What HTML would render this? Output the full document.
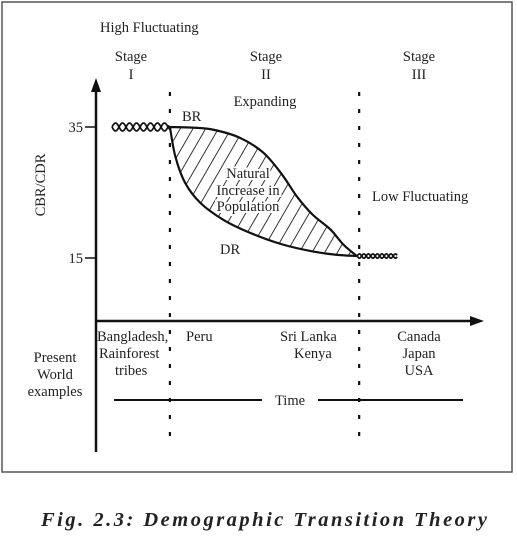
<!DOCTYPE html>
<html><head><meta charset="utf-8"><style>
body{margin:0;background:#fff}
svg text{font-family:"Liberation Serif",serif;font-size:14.5px;fill:#222}
</style></head><body>
<svg width="517" height="545" viewBox="0 0 517 545">
<defs>
<pattern id="hatch" patternUnits="userSpaceOnUse" width="11" height="11" patternTransform="rotate(30)">
<line x1="0" y1="0" x2="0" y2="11" stroke="#111" stroke-width="1.7"/>
</pattern>
<clipPath id="nic"><path id="clipPath"/></clipPath>
</defs>
<rect x="2" y="2" width="510" height="470" fill="none" stroke="#555" stroke-width="1.5"/>
<text x="100" y="32">High Fluctuating</text>
<g text-anchor="middle">
<text x="131" y="61">Stage</text><text x="131" y="79">I</text>
<text x="266" y="61">Stage</text><text x="266" y="79">II</text>
<text x="419" y="61">Stage</text><text x="419" y="79">III</text>
</g>
<text x="265" y="106" text-anchor="middle">Expanding</text>
<text x="182" y="121">BR</text>
<text x="220" y="254">DR</text>
<text x="372" y="201">Low Fluctuating</text>
<g id="plot"></g>
<g text-anchor="middle" style="paint-order:stroke" stroke="#fff" stroke-width="4">
<text x="248" y="178">Natural</text><text x="248" y="195">Increase in</text><text x="248" y="211">Population</text>
</g>
<text transform="translate(45,185) rotate(-90)" text-anchor="middle">CBR/CDR</text>
<g id="axes"></g>
<g>
<text x="97" y="341">Bangladesh,</text>
<text x="99" y="358">Rainforest</text>
<text x="115" y="375">tribes</text>
<text x="186" y="341">Peru</text>
<text x="280" y="341">Sri Lanka</text>
<text x="294" y="358">Kenya</text>
<g text-anchor="middle"><text x="419" y="341">Canada</text><text x="419" y="358">Japan</text><text x="419" y="375">USA</text>
<text x="55" y="362">Present</text><text x="55" y="379">World</text><text x="55" y="396">examples</text></g>
</g>
<line x1="114" y1="400" x2="262" y2="400" stroke="#111" stroke-width="2"/>
<line x1="318" y1="400" x2="463" y2="400" stroke="#111" stroke-width="2"/>
<text x="290" y="405" text-anchor="middle">Time</text>
<text x="264" y="526" text-anchor="middle" textLength="446" lengthAdjust="spacing" style="font-size:20.5px;font-weight:bold;font-style:italic">Fig. 2.3: Demographic Transition Theory</text>
</svg>
<script>
const yTicks=[35,15];
const stageBounds=[19.1,68.0];
const brTime=[19.1,25,30.2,37,43.2,48,51.9,56,60.5,64,67.4];
const brValue=[35,34.9,34.6,33.4,31.1,27.8,24.4,21.6,19.4,17.0,15.3];
const drTime=[19.1,20.5,23,27,33,40,48,56,62,67.4];
const drValue=[35,30.5,26.5,23.4,20.8,18.8,17.1,16.0,15.5,15.3];
const NS="http://www.w3.org/2000/svg";
const X=t=>96+t*3.87;
const Y=v=>127+(35-v)*6.55;
function mk(tag,attrs,parent){const e=document.createElementNS(NS,tag);for(const k in attrs)e.setAttribute(k,attrs[k]);parent.appendChild(e);return e;}
const axes=document.getElementById('axes'),plot=document.getElementById('plot');
mk('line',{x1:96,y1:88,x2:96,y2:452,stroke:'#111','stroke-width':2.5},axes);
mk('polygon',{points:'96,78 91,92 101,92',fill:'#111'},axes);
mk('line',{x1:96,y1:321,x2:474,y2:321,stroke:'#111','stroke-width':2.5},axes);
mk('polygon',{points:'484,321 470,316 470,326',fill:'#111'},axes);
yTicks.forEach(v=>{
 const t=mk('line',{x1:85,y1:Y(v),x2:96,y2:Y(v),stroke:'#111','stroke-width':1.5},axes);
 
 
 const l=mk('text',{x:83,y:Y(v)+5,'text-anchor':'end'},axes);l.textContent=v;
 
 
});
stageBounds.forEach((b,i)=>{
 const d=mk('line',{x1:X(b),y1:92,x2:X(b),y2:446,stroke:'#111','stroke-width':2.2,'stroke-dasharray':'4 13'},axes);
 
 
});
function pts(ts,vs){return ts.map((t,i)=>[X(t),Y(vs[i])]);}
function smooth(p){let d='M'+p[0][0]+','+p[0][1];for(let i=0;i<p.length-1;i++){const p0=p[i-1]||p[i],p1=p[i],p2=p[i+1],p3=p[i+2]||p2;
 d+=' C'+(p1[0]+(p2[0]-p0[0])/6)+','+(p1[1]+(p2[1]-p0[1])/6)+' '+(p2[0]-(p3[0]-p1[0])/6)+','+(p2[1]-(p3[1]-p1[1])/6)+' '+p2[0]+','+p2[1];}return d;}
const br=pts(brTime,brValue),dr=pts(drTime,drValue);
const brD=smooth(br),drD=smooth(dr);
const revDr=smooth(dr.slice().reverse());
document.getElementById('clipPath').setAttribute('d',brD+' L'+revDr.slice(1)+' Z');
const hatch=mk('rect',{x:160,y:120,width:210,height:150,fill:'url(#hatch)','clip-path':'url(#nic)'},plot);


const brL=mk('path',{d:brD,fill:'none',stroke:'#111','stroke-width':2.2},plot);


const drL=mk('path',{d:drD,fill:'none',stroke:'#111','stroke-width':2.2},plot);


function twist(x0,x1,y,amp,per){let a='M'+x0+','+y,b='M'+x0+','+y;for(let x=x0;x<=x1;x+=1){const s=Math.sin((x-x0)/per*2*Math.PI)*amp;a+=' L'+x+','+(y+s);b+=' L'+x+','+(y-s);}return [a,b];}
const s1=twist(112,X(stageBounds[0]),Y(35),4,14);
s1.forEach((d,i)=>{const p=mk('path',{d:d,fill:'none',stroke:'#111','stroke-width':1.7},plot);
 
 });
const s3=twist(X(stageBounds[1])-2,398,Y(15.3),2.2,9);
s3.forEach((d,i)=>{const p=mk('path',{d:d,fill:'none',stroke:'#111','stroke-width':1.7},plot);
 
 });
</script>
</body></html>
